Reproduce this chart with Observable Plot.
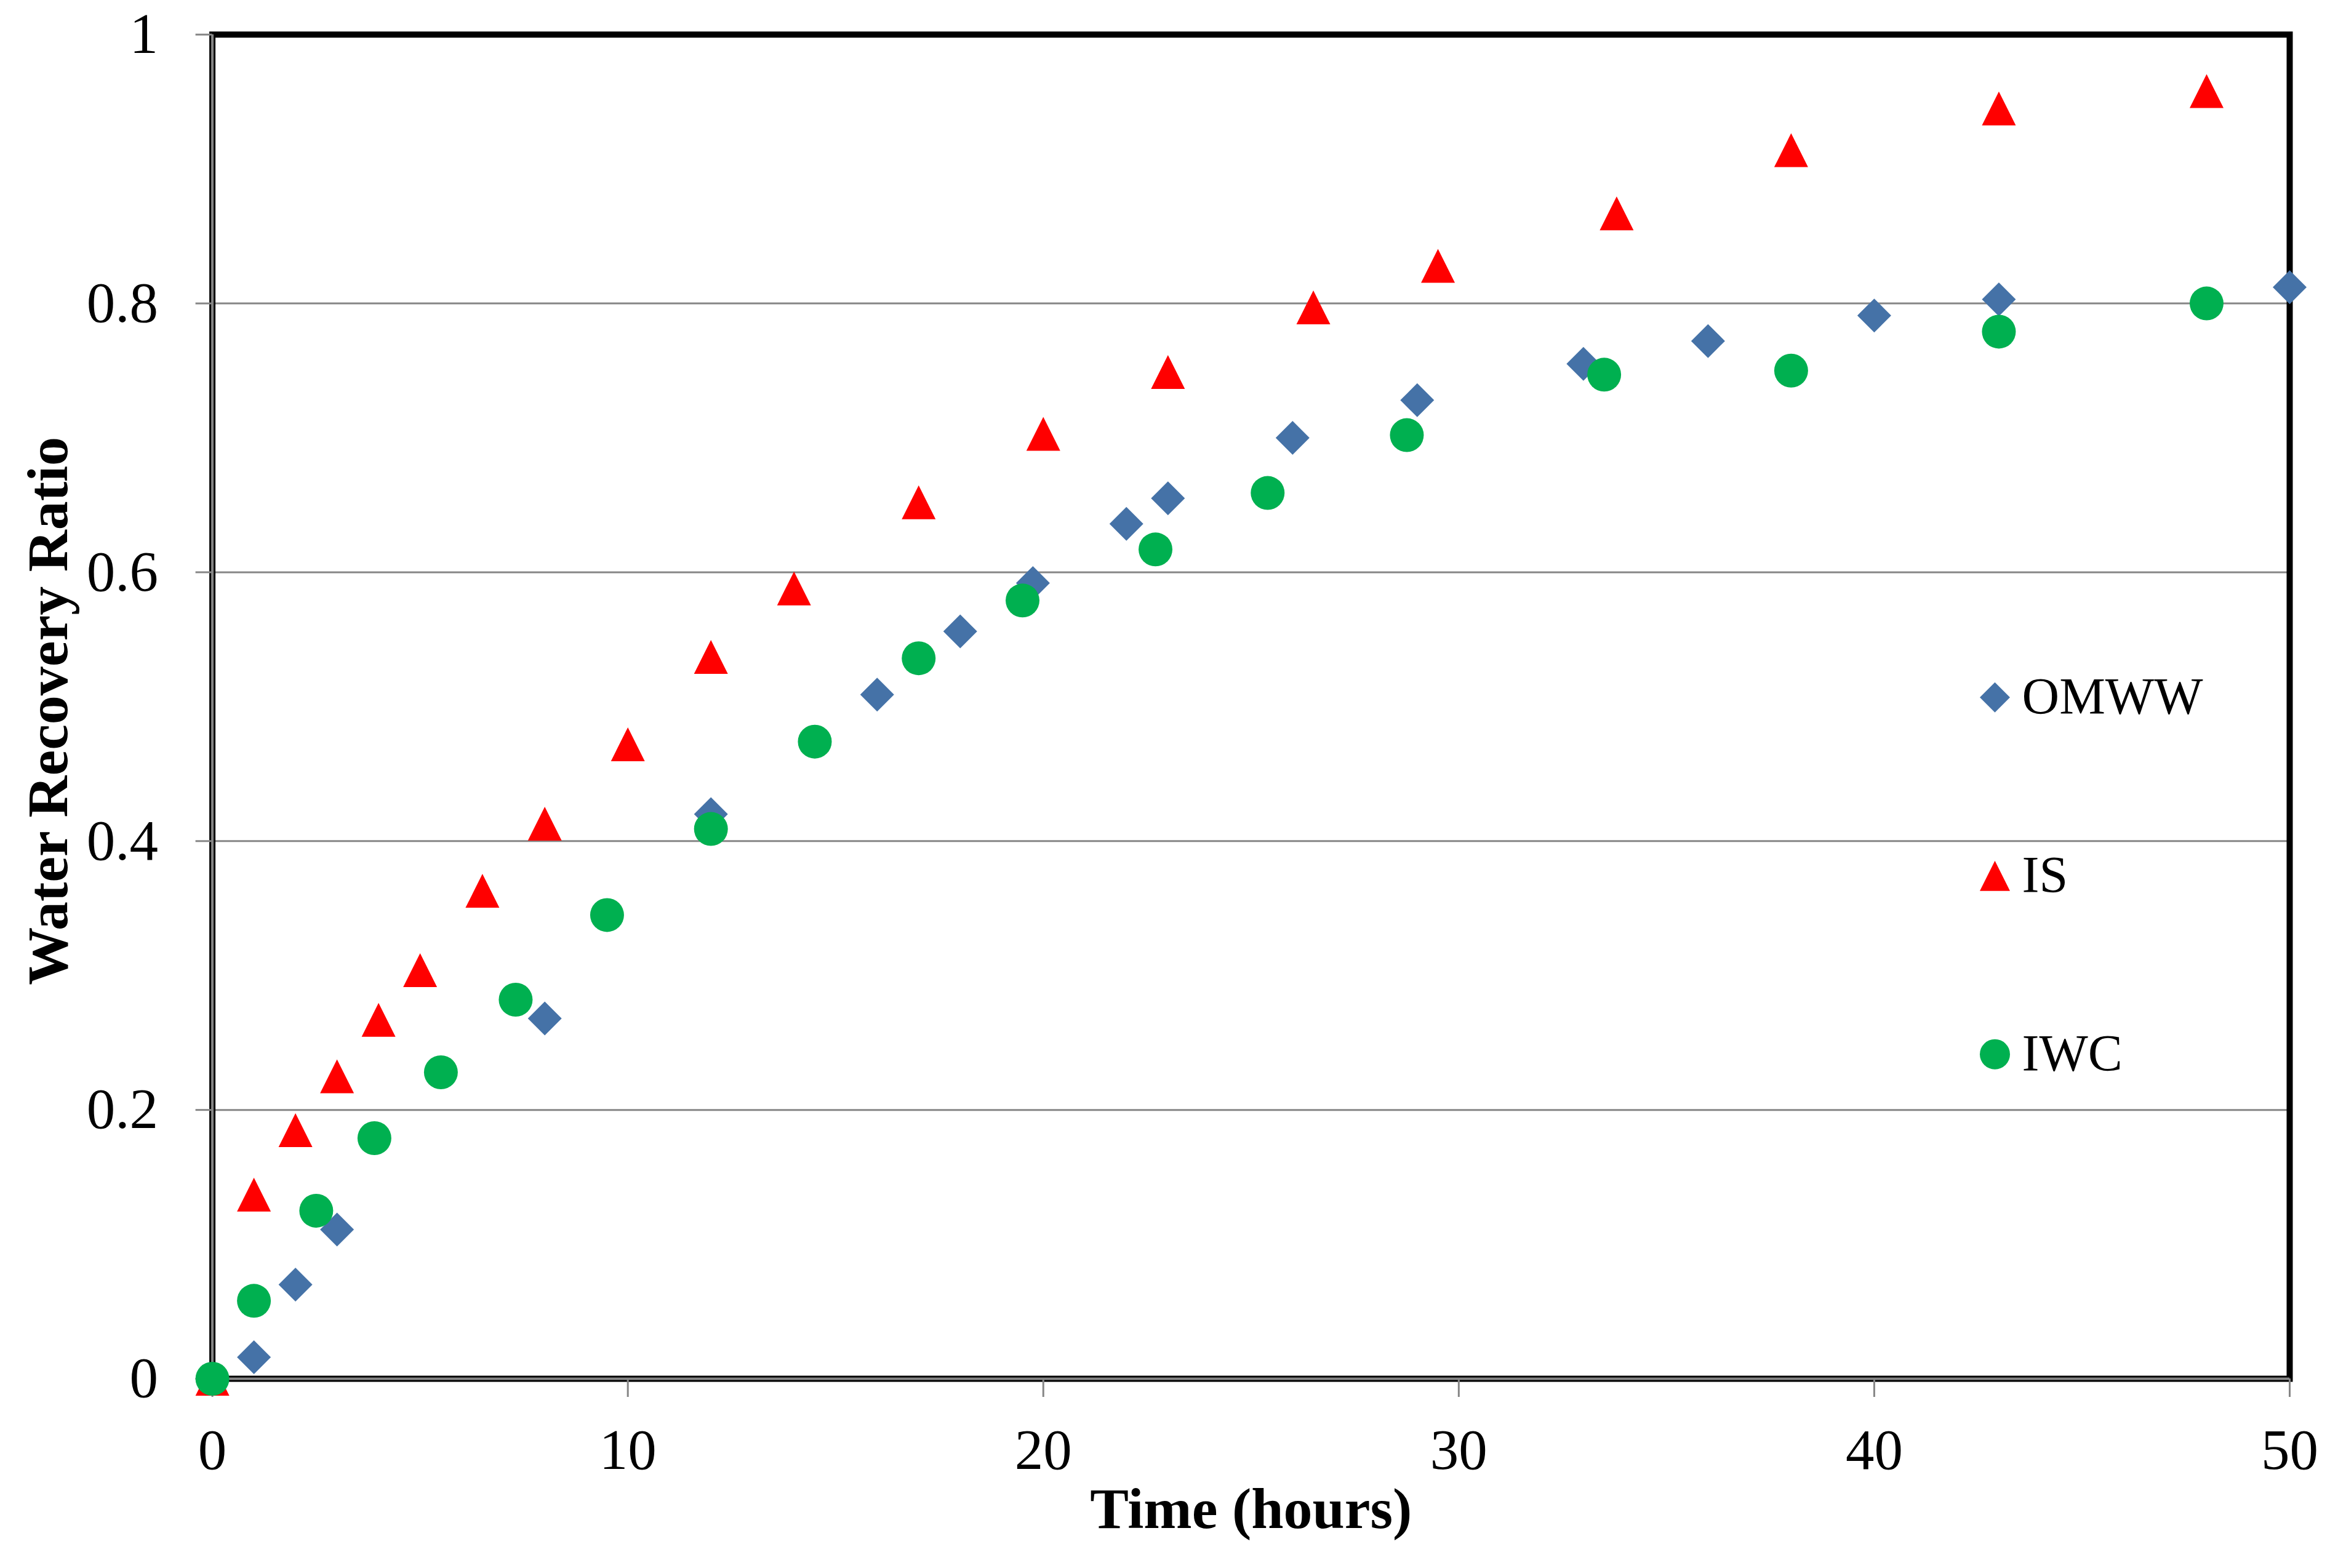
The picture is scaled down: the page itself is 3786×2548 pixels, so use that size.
<!DOCTYPE html>
<html>
<head>
<meta charset="utf-8">
<script src="https://cdn.jsdelivr.net/npm/d3@7"></script>
<script src="https://cdn.jsdelivr.net/npm/@observablehq/plot@0.6"></script>
<style>
  html, body { margin: 0; padding: 0; background: #ffffff; overflow: hidden; }
</style>
</head>
<body>
<div id="chart"></div>
<script>
// ---- data ----
const seriesNames = ["OMWW", "IS", "IWC"];
const seriesColors = ["#4572A7", "#FF0000", "#00B050"];

const omwwTime  = [0, 1, 2, 3, 8, 12, 16, 18, 19.75, 22, 23, 26, 29, 33, 36, 40, 43, 50];
const omwwRatio = [0, 0.016, 0.070, 0.111, 0.268, 0.420, 0.509, 0.556, 0.592, 0.636, 0.655, 0.700, 0.728, 0.755, 0.772, 0.791, 0.803, 0.812];

const isTime  = [0, 1, 2, 3, 4, 5, 6.5, 8, 10, 12, 14, 17, 20, 23, 26.5, 29.5, 33.8, 38, 43, 48];
const isRatio = [0, 0.137, 0.185, 0.225, 0.267, 0.304, 0.363, 0.413, 0.472, 0.537, 0.588, 0.652, 0.703, 0.749, 0.797, 0.828, 0.867, 0.914, 0.945, 0.958];

const iwcTime  = [0, 1, 2.5, 3.9, 5.5, 7.3, 9.5, 12, 14.5, 17, 19.5, 22.7, 25.4, 28.75, 33.5, 38, 43, 48];
const iwcRatio = [0, 0.058, 0.125, 0.179, 0.228, 0.282, 0.345, 0.409, 0.474, 0.536, 0.579, 0.617, 0.659, 0.702, 0.747, 0.750, 0.779, 0.800];

const xTicks = [0, 10, 20, 30, 40, 50];
const yTicks = [0, 0.2, 0.4, 0.6, 0.8, 1];
const yGrid  = [0.2, 0.4, 0.6, 0.8];

const xTitle = "Time (hours)";
const yTitle = "Water Recovery Ratio";

// ---- marker shapes (Excel-like) ----
const diamondSym = {
  draw(ctx, size) {
    const r = Math.sqrt(size / Math.PI);
    ctx.moveTo(0, -r); ctx.lineTo(r, 0); ctx.lineTo(0, r); ctx.lineTo(-r, 0); ctx.closePath();
  }
};
const triangleSym = {
  draw(ctx, size) {
    const r = Math.sqrt(size / Math.PI);
    ctx.moveTo(0, -r); ctx.lineTo(r, r); ctx.lineTo(-r, r); ctx.closePath();
  }
};
const symbols = [diamondSym, triangleSym, "circle"];

const rows = (ts, vs) => ts.map((t, i) => ({t, v: vs[i]}));
const seriesData = [rows(omwwTime, omwwRatio), rows(isTime, isRatio), rows(iwcTime, iwcRatio)];

const W = 3786, H = 2548;
const fmt = d3.format("~g");
const gray = "#868686";
const font = "Liberation Serif";

const marks = [
  Plot.gridY(yGrid, {stroke: gray, strokeOpacity: 1, strokeWidth: 3}),
  Plot.frame({stroke: "black", strokeWidth: 10}),
  Plot.ruleX([0], {stroke: gray, strokeWidth: 4}),
  Plot.ruleY([0], {stroke: gray, strokeWidth: 4}),
  // tick marks
  Plot.axisX({ticks: xTicks, tickSize: 30, text: null, label: null, stroke: gray, strokeWidth: 3}),
  Plot.axisY({ticks: yTicks, tickSize: 27, text: null, label: null, stroke: gray, strokeWidth: 3}),
  // tick labels
  Plot.axisX({ticks: xTicks, tickSize: 0, tickPadding: 80, tickFormat: fmt, label: null, fontSize: 93, fill: "black"}),
  Plot.axisY({ticks: yTicks, tickSize: 0, tickPadding: 88, tickFormat: fmt, label: null, fontSize: 93, fill: "black"}),
];

// data markers (series order: later drawn on top)
seriesData.forEach((data, i) => {
  marks.push(Plot.dot(data, {x: "t", y: "v", symbol: symbols[i], r: 27.5, fill: seriesColors[i]}));
});

// legend inside the plot area
const legendDx = -479, legendTextDx = -435, legendTop = 1077, legendGap = 290;
seriesNames.forEach((name, i) => {
  marks.push(Plot.dot([name], {frameAnchor: "top-right", dx: legendDx, dy: legendTop + i * legendGap,
    symbol: symbols[i], r: 24.5, fill: seriesColors[i]}));
  marks.push(Plot.text([name], {frameAnchor: "top-right", dx: legendTextDx, dy: legendTop + i * legendGap,
    text: d => d, textAnchor: "start", lineAnchor: "middle", fontSize: 84, fill: "black"}));
});

// axis titles
marks.push(Plot.text([xTitle], {frameAnchor: "bottom", dy: 242, text: d => d, textAnchor: "middle", lineAnchor: "bottom",
  fontSize: 94, fontWeight: "bold", fill: "black"}));
marks.push(Plot.text([yTitle], {frameAnchor: "left", dx: -236.6, dy: 7, rotate: -90, text: d => d,
  textAnchor: "middle", lineAnchor: "bottom", fontSize: 94, fontWeight: "bold", fill: "black"}));

const chart = Plot.plot({
  width: W,
  height: H,
  marginLeft: 344.6,
  marginRight: 66,
  marginTop: 55.7,
  marginBottom: 308,
  x: {domain: [0, 50]},
  y: {domain: [0, 1]},
  style: {fontFamily: font, background: "#ffffff", color: "black", overflow: "visible"},
  marks
});
document.getElementById("chart").appendChild(chart);
</script>
</body>
</html>
